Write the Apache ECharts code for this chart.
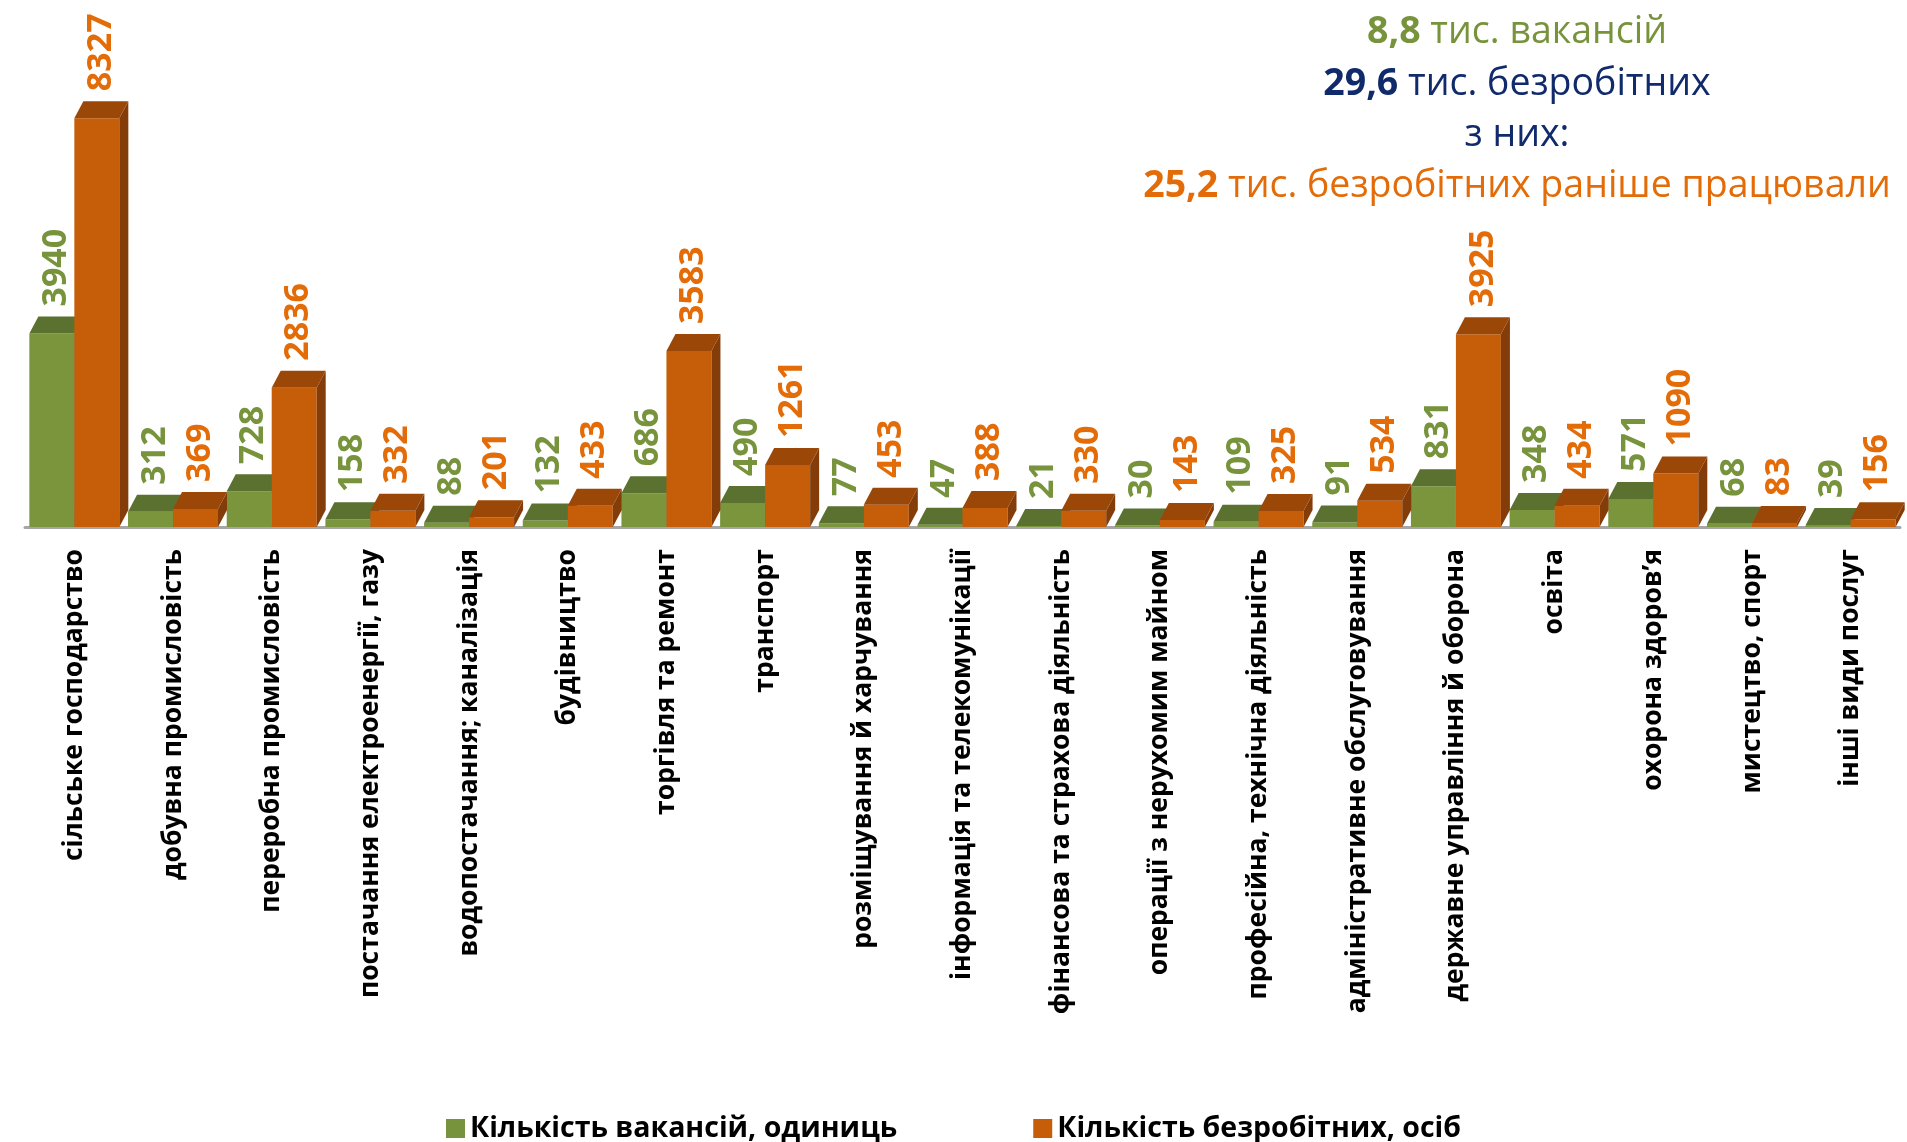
<!DOCTYPE html>
<html><head><meta charset="utf-8">
<script src="https://cdn.jsdelivr.net/npm/echarts@6/dist/echarts.min.js"></script>
<style>html,body{margin:0;padding:0;background:#fff}#c{width:1907px;height:1142px}</style>
</head><body><div id="c"></div>
<script>
const categories = [
  'сільське господарство',
  'добувна промисловість',
  'переробна промисловість',
  'постачання електроенергії, газу',
  'водопостачання; каналізація',
  'будівництво',
  'торгівля та ремонт',
  'транспорт',
  'розміщування й харчування',
  'інформація та телекомунікації',
  'фінансова та страхова діяльність',
  'операції з нерухомим майном',
  'професійна, технічна діяльність',
  'адміністративне обслуговування',
  'державне управління й оборона',
  'освіта',
  'охорона здоров’я',
  'мистецтво, спорт',
  'інші види послуг'
];
const vacancies = [3940, 312, 728, 158, 88, 132, 686, 490, 77, 47, 21, 30, 109, 91, 831, 348, 571, 68, 39];
const unemployed = [8327, 369, 2836, 332, 201, 433, 3583, 1261, 453, 388, 330, 143, 325, 534, 3925, 434, 1090, 83, 156];
const seriesNames = ['Кількість вакансій, одиниць', 'Кількість безробітних, осіб'];

const DX = 9, DY = 17;
const greenC = {front:'#7A953C', top:'#5A7130', side:'#4A5E26', label:'#77933C'};
const orangeC = {front:'#C65E09', top:'#9A4708', side:'#843C08', label:'#E36C09'};

function makeRender(side, c){
  return function(params, api){
    const idx = api.value(0), val = api.value(1);
    const base = api.coord([idx, 0]);
    const top = api.coord([idx, val]);
    const band = api.size([1, 0])[0];
    const bw = band * 0.456;
    const x0 = side === 0 ? base[0] - bw : base[0];
    const x1 = x0 + bw;
    const yb = base[1], yt = top[1];
    return {type:'group', children:[
      {type:'rect', shape:{x:x0, y:yt, width:bw, height:Math.max(yb-yt,0.5)}, style:{fill:c.front}},
      {type:'polygon', shape:{points:[[x1,yb],[x1+DX,yb-DY],[x1+DX,yt-DY],[x1,yt]]}, style:{fill:c.side}},
      {type:'polygon', shape:{points:[[x0,yt],[x0+DX,yt-DY],[x1+DX,yt-DY],[x1,yt]]}, style:{fill:c.top}},
      {type:'text', x:(x0 + x1 + DX)/2, y:yt - DY - 10, rotation:Math.PI/2,
       style:{text:String(val), fill:c.label, font:'bold 34px "Open Sans"', align:'left', verticalAlign:'middle'}}
    ]};
  };
}

const chart = echarts.init(document.getElementById('c'), null, {renderer:'canvas'});
chart.setOption({
  animation:false,
  backgroundColor:'#fff',
  grid:{left:25, right:7, top:36, bottom:615},
  xAxis:{type:'category', data:categories,
    axisLine:{lineStyle:{color:'#A6A6A6', width:3}},
    axisTick:{show:false},
    axisLabel:{interval:0, rotate:90, margin:22, color:'#000', fontWeight:'bold', fontSize:26.5, fontFamily:'"Open Sans"'}},
  yAxis:{type:'value', min:0, max:10000, show:false, splitLine:{show:false}},
  legend:{top:1109, left:'center', itemGap:136, itemWidth:19, itemHeight:19, icon:'rect',
    textStyle:{color:'#000', fontWeight:'bold', fontSize:28.5, fontFamily:'"Open Sans"'},
    data:seriesNames},
  series:[
    {name:seriesNames[0], type:'custom', itemStyle:{color:'#77933C'},
     data:vacancies.map((v,i)=>[i,v]), encode:{x:0,y:1}, renderItem:makeRender(0, greenC)},
    {name:seriesNames[1], type:'custom', itemStyle:{color:'#C65E09'},
     data:unemployed.map((v,i)=>[i,v]), encode:{x:0,y:1}, renderItem:makeRender(1, orangeC)}
  ],
  graphic:[
    {type:'text', x:1517, y:32, style:{text:'{g|8,8}{gn| тис. вакансій}', align:'center', verticalAlign:'middle',
      rich:{g:{font:'bold 37.5px "Open Sans"', fill:'#77933C'}, gn:{font:'37.5px "Open Sans"', fill:'#77933C'}}}},
    {type:'text', x:1517, y:84, style:{text:'{b|29,6}{bn| тис. безробітних}', align:'center', verticalAlign:'middle',
      rich:{b:{font:'bold 37.5px "Open Sans"', fill:'#102A6B'}, bn:{font:'37.5px "Open Sans"', fill:'#102A6B'}}}},
    {type:'text', x:1517, y:135, style:{text:'з них:', align:'center', verticalAlign:'middle',
      font:'37.5px "Open Sans"', fill:'#102A6B'}},
    {type:'text', x:1517, y:186, style:{text:'{o|25,2}{on| тис. безробітних раніше працювали}', align:'center', verticalAlign:'middle',
      rich:{o:{font:'bold 37.5px "Open Sans"', fill:'#E36C09'}, on:{font:'37.5px "Open Sans"', fill:'#E36C09'}}}}
  ]
});
</script>
</body></html>
